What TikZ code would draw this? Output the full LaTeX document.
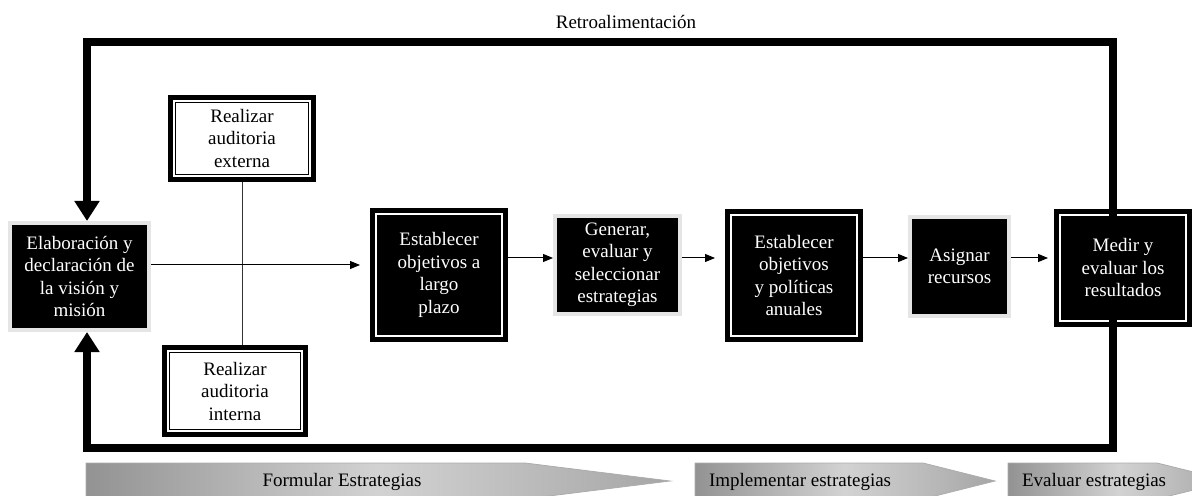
\documentclass[tikz,border=0pt]{standalone}
\usepackage{fontspec}
\setmainfont{Liberation Serif}
\usepackage{tikz}
\usetikzlibrary{arrows.meta}

\begin{document}
\begin{tikzpicture}[x=0.5pt,y=-0.5pt,font=\fontsize{9.5}{11.25}\selectfont,
  marco/.style={draw=black,line width=0.5pt,double=white,double distance=1pt,
    preaction={draw=black,line width=6pt},outer sep=3pt,inner sep=0pt,align=center},
  marcoblanco/.style={marco,fill=white},
  marconegro/.style={marco,fill=black,text=white},
  sombra/.style={fill=black,draw=gray!20,line width=2pt,text=white,inner sep=0pt,align=center},
  flecha/.style={-{Triangle[length=5pt,width=4pt]},line width=0.5pt},
  lazo/.style={line width=4pt,-{Triangle[length=10pt,width=12pt]}},
  fase/.style={draw=gray!65,line width=0.4pt,left color=gray!85,right color=gray!70,middle color=gray!35}]
\useasboundingbox (0,0) rectangle (1192,496);
\node[sombra,minimum width=69.5pt,minimum height=53.5pt] (mision) at (79.5,276.5) {Elaboración y\\declaración de\\la visión y\\misión};
\node[marcoblanco,minimum width=68pt,minimum height=37.5pt] (externa) at (242,138.5) {Realizar\\auditoria\\externa};
\node[marcoblanco,minimum width=67pt,minimum height=40pt] (interna) at (235,391) {Realizar\\auditoria\\interna};
\node[marconegro,minimum width=63pt,minimum height=61pt] (objlargo) at (439,275) {Establecer\\objetivos a\\largo\\plazo};
\node[sombra,minimum width=62.5pt,minimum height=49pt] (generar) at (617.5,265) {Generar,\\evaluar y\\seleccionar\\estrategias};
\node[marconegro,minimum width=63pt,minimum height=60.5pt] (objanual) at (794,275.5) {Establecer\\objetivos\\y políticas\\anuales};
\node[sombra,minimum width=49.5pt,minimum height=49.5pt] (asignar) at (959.5,266.5) {Asignar\\recursos};
\node[marconegro,minimum width=63pt,minimum height=53pt] (medir) at (1123,268) {Medir y\\evaluar los\\resultados};
\node (retro) at (626,22) {Retroalimentación};
\coordinate (cruce) at (242,265);
\coordinate (fila) at (0,258);
\coordinate (esqsup) at (87,42);
\coordinate (esqinf) at (87,448);
\draw[line width=0.5pt,black!80] (externa.south) -- (externa.south |- interna.north);
\draw[flecha,shorten >=5pt] (mision.east |- cruce) -- (objlargo.west |- cruce);
\draw[flecha] (objlargo.east |- fila) -- (generar.west |- fila);
\draw[flecha,shorten >=5pt] (generar.east |- fila) -- (objanual.west |- fila);
\draw[flecha] (objanual.east |- fila) -- (asignar.west |- fila);
\draw[flecha,shorten >=3pt] (asignar.east |- fila) -- (medir.west |- fila);
\draw[lazo] ([xshift=-5pt,yshift=-4pt]medir.north) |- (esqsup) -- (esqsup |- mision.north);
\draw[lazo] ([xshift=-5pt,yshift=4pt]medir.south) |- (esqinf) -- (esqinf |- mision.south);
\path[fase] (86,463) -- (525,463) -- (670,481) -- (525,499) -- (86,499) -- cycle;
\path[fase] (695,463) -- (923,463) -- (995,481) -- (923,499) -- (695,499) -- cycle;
\path[fase] (1008,463) -- (1157,463) -- (1230,481) -- (1157,499) -- (1008,499) -- cycle;
\node (formular) at (342,482) {Formular Estrategias};
\node[anchor=west] (implementar) at (702,482) {Implementar estrategias};
\node[anchor=west] (evaluar) at (1015,482) {Evaluar estrategias};
\end{tikzpicture}
\end{document}
